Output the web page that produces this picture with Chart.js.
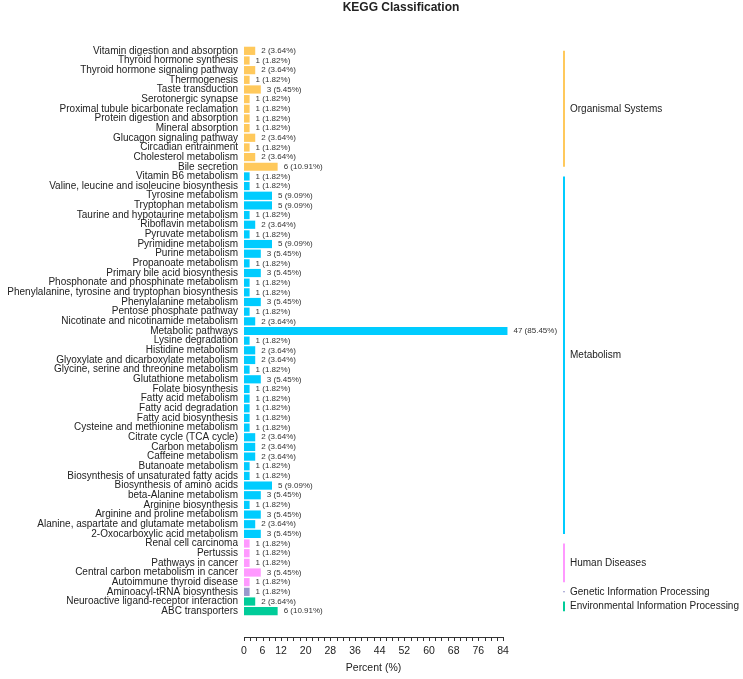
<!DOCTYPE html>
<html>
<head>
<meta charset="utf-8">
<script src="https://cdn.jsdelivr.net/npm/chart.js@4"></script>
<style>
  html, body { margin: 0; padding: 0; background: #fff; }
  canvas { display: block; }
</style>
</head>
<body>
<canvas id="keggChart" width="743" height="679"></canvas>
<script>
const categories = [
    'Vitamin digestion and absorption', 'Thyroid hormone synthesis', 'Thyroid hormone signaling pathway',
    'Thermogenesis', 'Taste transduction', 'Serotonergic synapse', 'Proximal tubule bicarbonate reclamation',
    'Protein digestion and absorption', 'Mineral absorption', 'Glucagon signaling pathway',
    'Circadian entrainment', 'Cholesterol metabolism', 'Bile secretion',
    'Vitamin B6 metabolism', 'Valine, leucine and isoleucine biosynthesis', 'Tyrosine metabolism',
    'Tryptophan metabolism', 'Taurine and hypotaurine metabolism', 'Riboflavin metabolism',
    'Pyruvate metabolism', 'Pyrimidine metabolism', 'Purine metabolism', 'Propanoate metabolism',
    'Primary bile acid biosynthesis', 'Phosphonate and phosphinate metabolism',
    'Phenylalanine, tyrosine and tryptophan biosynthesis', 'Phenylalanine metabolism',
    'Pentose phosphate pathway', 'Nicotinate and nicotinamide metabolism', 'Metabolic pathways',
    'Lysine degradation', 'Histidine metabolism', 'Glyoxylate and dicarboxylate metabolism',
    'Glycine, serine and threonine metabolism', 'Glutathione metabolism', 'Folate biosynthesis',
    'Fatty acid metabolism', 'Fatty acid degradation', 'Fatty acid biosynthesis',
    'Cysteine and methionine metabolism', 'Citrate cycle (TCA cycle)', 'Carbon metabolism',
    'Caffeine metabolism', 'Butanoate metabolism', 'Biosynthesis of unsaturated fatty acids',
    'Biosynthesis of amino acids', 'beta-Alanine metabolism', 'Arginine biosynthesis',
    'Arginine and proline metabolism', 'Alanine, aspartate and glutamate metabolism',
    '2-Oxocarboxylic acid metabolism',
    'Renal cell carcinoma', 'Pertussis', 'Pathways in cancer', 'Central carbon metabolism in cancer',
    'Autoimmune thyroid disease',
    'Aminoacyl-tRNA biosynthesis',
    'Neuroactive ligand-receptor interaction', 'ABC transporters'
]

const counts = [
    2, 1, 2, 1, 3, 1, 1, 1, 1, 2, 1, 2, 6,
    1, 1, 5, 5, 1, 2, 1, 5, 3, 1, 3, 1, 1, 3, 1, 2, 47, 1, 2, 2, 1, 3, 1, 1, 1, 1, 1, 2, 2, 2, 1, 1, 5, 3, 1, 3, 2, 3,
    1, 1, 1, 3, 1,
    1,
    2, 6
]

const percents = [
    3.64, 1.82, 3.64, 1.82, 5.45, 1.82, 1.82, 1.82, 1.82, 3.64, 1.82, 3.64, 10.91,
    1.82, 1.82, 9.09, 9.09, 1.82, 3.64, 1.82, 9.09, 5.45, 1.82, 5.45, 1.82, 1.82, 5.45, 1.82, 3.64, 85.45,
    1.82, 3.64, 3.64, 1.82, 5.45, 1.82, 1.82, 1.82, 1.82, 1.82, 3.64, 3.64, 3.64, 1.82, 1.82, 9.09, 5.45,
    1.82, 5.45, 3.64, 5.45,
    1.82, 1.82, 1.82, 5.45, 1.82,
    1.82,
    3.64, 10.91
]

const groupNames = ['Organismal Systems', 'Metabolism', 'Human Diseases',
    'Genetic Information Processing', 'Environmental Information Processing']
const groupSizes = [13, 38, 5, 1, 2]
const groupColors = ['#FFC95C', '#00CCFF', '#FF99FF', '#9999CC', '#00CC99']

const xTickLabels = [0, 6, 12, 20, 28, 36, 44, 52, 60, 68, 76, 84]
const xMinorStep = 2
const xMax = 84

// one colour per bar, from the group it belongs to
let barColors = []
groupSizes.forEach((size, g) => {
    for (let i = 0; i < size; i++) barColors.push(groupColors[g])
})

const FONT = '"Liberation Sans", Arial, sans-serif'

const titleText = {
    id: 'titleText',
    afterDraw (chart) {
        const ctx = chart.ctx
        ctx.save()
        ctx.font = 'bold 12px ' + FONT
        ctx.fillStyle = '#222'
        ctx.textAlign = 'center'
        ctx.textBaseline = 'middle'
        ctx.fillText('KEGG Classification', 401, 8)
        ctx.restore()
    },
}

const valueLabels = {
    id: 'valueLabels',
    afterDatasetsDraw (chart) {
        const ctx = chart.ctx
        const meta = chart.getDatasetMeta(0)
        ctx.save()
        ctx.font = '8px ' + FONT
        ctx.fillStyle = '#333'
        ctx.textAlign = 'left'
        ctx.textBaseline = 'middle'
        meta.data.forEach((bar, i) => {
            ctx.fillText(counts[i] + ' (' + percents[i].toFixed(2) + '%)', bar.x + 6, bar.y)
        })
        ctx.restore()
    },
}

const groupBrackets = {
    id: 'groupBrackets',
    afterDraw (chart) {
        const ctx = chart.ctx
        const y = chart.scales.y
        const lineX = 564
        let start = 0
        ctx.save()
        groupSizes.forEach((size, g) => {
            const end = start + size - 1
            let y0 = y.getPixelForValue(start)
            let y1 = y.getPixelForValue(end)
            if (size === 1) {
                y0 -= 0.5
                y1 += 0.5
            }
            ctx.strokeStyle = groupColors[g]
            ctx.lineWidth = 2
            ctx.beginPath()
            ctx.moveTo(lineX, y0)
            ctx.lineTo(lineX, y1)
            ctx.stroke()

            ctx.font = '10px ' + FONT
            ctx.fillStyle = '#222'
            ctx.textAlign = 'left'
            ctx.textBaseline = 'middle'
            ctx.fillText(groupNames[g], lineX + 6, (y0 + y1) / 2)
            start = end + 1
        })
        ctx.restore()
    },
}

const bottomAxis = {
    id: 'bottomAxis',
    afterDraw (chart) {
        const ctx = chart.ctx
        const x = chart.scales.x
        const axisY = 637
        ctx.save()
        ctx.strokeStyle = '#333'
        ctx.lineWidth = 1
        ctx.beginPath()
        ctx.moveTo(x.getPixelForValue(0), axisY + 0.5)
        ctx.lineTo(x.getPixelForValue(xMax), axisY + 0.5)
        for (let v = 0; v <= xMax; v += xMinorStep) {
            const px = Math.round(x.getPixelForValue(v)) + 0.5
            ctx.moveTo(px, axisY)
            ctx.lineTo(px, axisY + 4)
        }
        ctx.stroke()

        ctx.font = '10.5px ' + FONT
        ctx.fillStyle = '#222'
        ctx.textAlign = 'center'
        ctx.textBaseline = 'middle'
        xTickLabels.forEach(v => {
            ctx.fillText(String(v), x.getPixelForValue(v), axisY + 14)
        })
        ctx.fillText('Percent (%)', (x.getPixelForValue(0) + x.getPixelForValue(xMax)) / 2, axisY + 31)
        ctx.restore()
    },
}

new Chart(document.getElementById('keggChart'), {
    type: 'bar',
    data: {
        labels: categories,
        datasets: [{
            data: percents,
            backgroundColor: barColors,
            borderWidth: 0,
            barPercentage: 0.85,
            categoryPercentage: 1,
            clip: false,
        }],
    },
    options: {
        indexAxis: 'y',
        responsive: false,
        animation: false,
        layout: {
            padding: { left: 0, right: 240, top: 46, bottom: 63 },
        },
        plugins: {
            legend: { display: false },
            tooltip: { enabled: false },
            title: { display: false },
        },
        scales: {
            x: {
                display: false,
                min: 0,
                max: xMax,
            },
            y: {
                grid: { display: false, drawTicks: false, tickLength: 0 },
                border: { display: false },
                ticks: {
                    autoSkip: false,
                    color: '#222',
                    padding: 6,
                    font: { family: FONT, size: 10 },
                },
                afterFit: (scale) => { scale.width = 244 },
            },
        },
    },
    plugins: [titleText, valueLabels, groupBrackets, bottomAxis],
})
</script>
</body>
</html>
